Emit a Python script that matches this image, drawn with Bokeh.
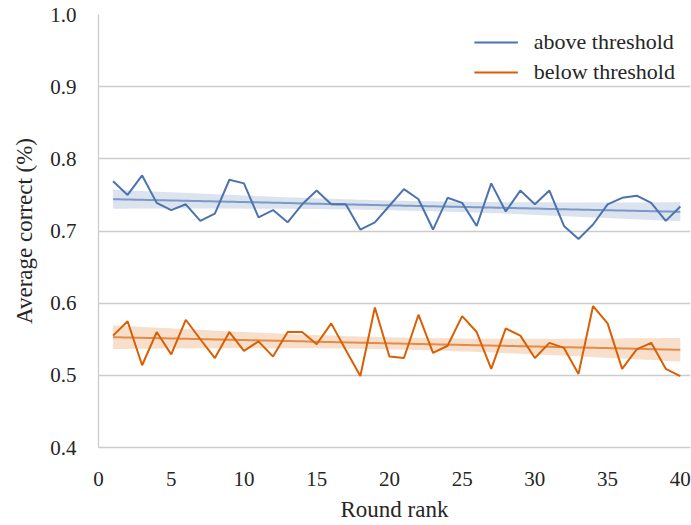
import numpy as np
from bokeh.plotting import figure
from bokeh.models import Legend, LegendItem, FixedTicker, NumeralTickFormatter, Range1d
from bokeh.embed import file_html
from bokeh.resources import INLINE

rounds = list(range(1, 41))
above = [0.769, 0.750, 0.777, 0.739, 0.729, 0.737, 0.714, 0.724, 0.771, 0.766,
         0.719, 0.729, 0.712, 0.737, 0.756, 0.737, 0.737, 0.702, 0.712, 0.735,
         0.758, 0.744, 0.702, 0.746, 0.739, 0.707, 0.766, 0.727, 0.756, 0.737,
         0.756, 0.707, 0.689, 0.709, 0.737, 0.746, 0.749, 0.739, 0.714, 0.734]
below = [0.555, 0.575, 0.514, 0.560, 0.529, 0.577, 0.550, 0.524, 0.560, 0.534,
         0.547, 0.526, 0.560, 0.560, 0.543, 0.572, 0.535, 0.499, 0.594, 0.526,
         0.524, 0.584, 0.531, 0.541, 0.582, 0.560, 0.509, 0.565, 0.555, 0.524,
         0.545, 0.538, 0.502, 0.596, 0.572, 0.509, 0.536, 0.545, 0.509, 0.499]
labels = ["above threshold", "below threshold"]
colors = ["#4c72b0", "#d95f02"]
x_ticks = [0, 5, 10, 15, 20, 25, 30, 35, 40]
y_ticks = [0.4, 0.5, 0.6, 0.7, 0.8, 0.9, 1.0]

FONT = "Liberation Serif"
TXT = "#262626"

p = figure(width=691, height=525, output_backend="svg", toolbar_location=None,
           x_range=Range1d(0, 40.7), y_range=Range1d(0.4, 1.0),
           min_border_left=98, min_border_right=1, min_border_top=14, min_border_bottom=78)
p.outline_line_color = None
p.background_fill_color = "white"
p.border_fill_color = "white"
p.xgrid.grid_line_color = None
p.ygrid.grid_line_color = "#cccccc"
p.ygrid.grid_line_width = 1.3

def regression_band(x, y):
    x = np.asarray(x, float); y = np.asarray(y, float)
    n = len(x)
    b, a = np.polyfit(x, y, 1)
    xs = np.linspace(x.min(), x.max(), 100)
    fit = a + b * xs
    resid = y - (a + b * x)
    s = np.sqrt(np.sum(resid ** 2) / (n - 2))
    sxx = np.sum((x - x.mean()) ** 2)
    se = s * np.sqrt(1.0 / n + (xs - x.mean()) ** 2 / sxx)
    t = 2.024
    return xs, fit, fit - t * se, fit + t * se

items = []
for series, col, lab in zip([above, below], colors, labels):
    xs, fit, lo, hi = regression_band(rounds, series)
    p.varea(x=xs, y1=lo, y2=hi, fill_color=col, fill_alpha=0.2)
    p.line(xs, fit, line_color=col, line_width=2, line_alpha=0.65)
    r = p.line(rounds, series, line_color=col, line_width=2)
    items.append(LegendItem(label=lab, renderers=[r]))

legend = Legend(items=items, location="top_right", border_line_color=None,
                background_fill_alpha=0, label_text_font=FONT, label_text_font_size="22px",
                label_text_color=TXT, glyph_width=44, glyph_height=20, label_height=20,
                spacing=4, label_standoff=16, padding=8, margin=15)
p.add_layout(legend)

for ax in [p.xaxis[0], p.yaxis[0]]:
    ax.axis_line_color = "#cccccc"
    ax.axis_line_width = 1.3
    ax.major_tick_line_color = None
    ax.minor_tick_line_color = None
    ax.major_label_text_font = FONT
    ax.major_label_text_font_size = "21px"
    ax.major_label_text_color = TXT
    ax.axis_label_text_font = FONT
    ax.axis_label_text_font_size = "23px"
    ax.axis_label_text_color = TXT
    ax.axis_label_text_font_style = "normal"

p.xaxis.ticker = FixedTicker(ticks=x_ticks)
p.yaxis.ticker = FixedTicker(ticks=y_ticks)
p.yaxis.formatter = NumeralTickFormatter(format="0.0")
p.xaxis.axis_label = "Round rank"
p.yaxis.axis_label = "Average correct (%)"
p.xaxis.major_label_standoff = 18
p.yaxis.major_label_standoff = 16
p.xaxis.axis_label_standoff = 8
p.yaxis.axis_label_standoff = 10

open("out.html", "w").write(file_html(p, INLINE))
